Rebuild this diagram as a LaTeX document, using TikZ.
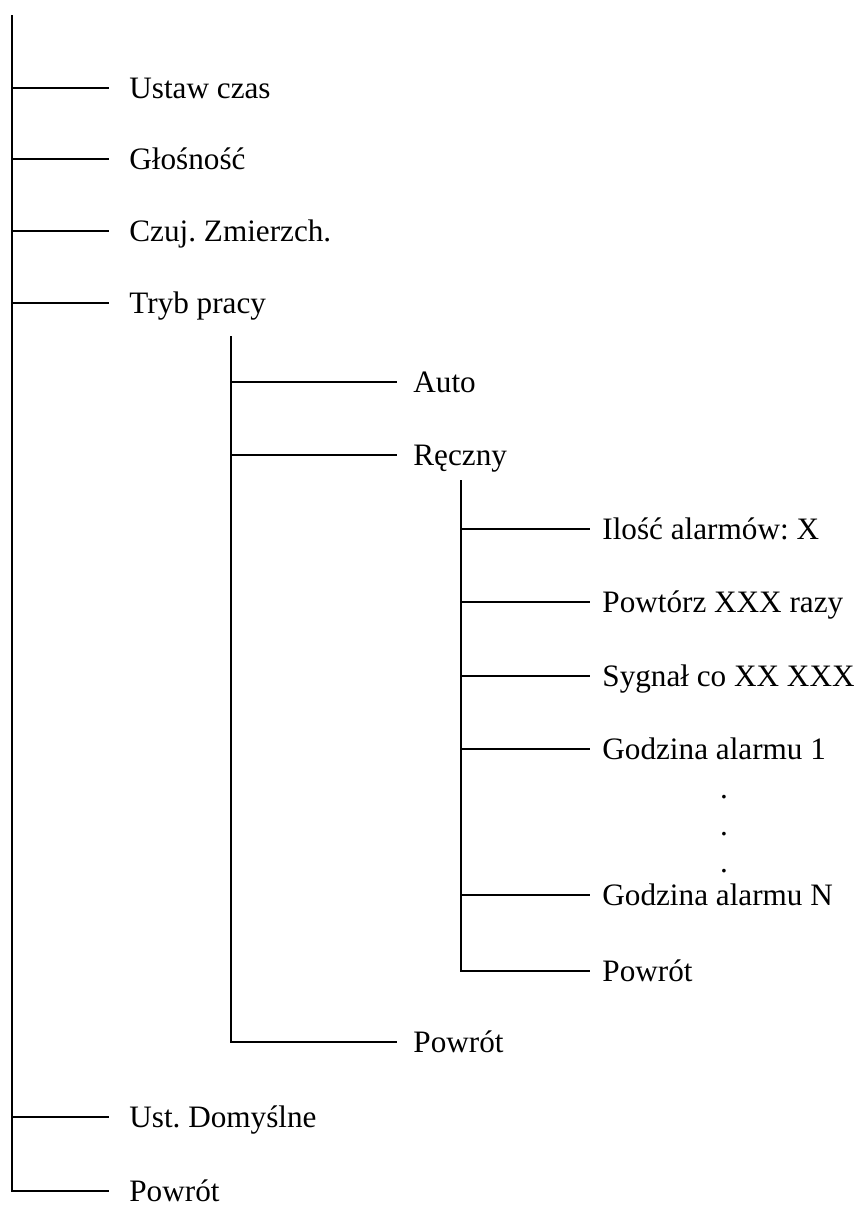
\documentclass[tikz,border=0pt]{standalone}
\usepackage{fontspec}
\setmainfont{Liberation Serif}
\usetikzlibrary{positioning}

\begin{document}
\frenchspacing
\begin{tikzpicture}[
    x=0.5pt, y=-0.5pt,
    item/.style={anchor=west, inner xsep=10pt, inner ysep=0pt,
        text height=10.3pt, text depth=0pt,
        font=\fontsize{15.6}{19}\selectfont},
    subitem/.style={item, inner xsep=8pt},
    subsubitem/.style={item, inner xsep=6pt},
    gap/.style={inner sep=0pt, font=\fontsize{15.6}{19}\selectfont},
    tree/.style={line width=1pt},
]
\useasboundingbox (0,0) rectangle (864,1205);

% main menu
\coordinate (root) at (12,15);
\node[item] (ustaw) at (109,88) {Ustaw czas};
\node[item] (glos) at (109,159) {Głośność};
\node[item] (czuj) at (109,231) {Czuj. Zmierzch.};
\node[item] (tryb) at (109,303) {Tryb pracy};
\node[item] (domysl) at (109,1117) {Ust. Domyślne};
\node[item] (powrotA) at (109,1191) {Powrót};

% tryb pracy
\coordinate (trybroot) at (231,336);
\node[subitem] (auto) at (397,382) {Auto};
\node[subitem] (reczny) at (397,455) {Ręczny};
\node[subitem] (powrotB) at (397,1042) {Powrót};

% reczny
\coordinate (recznyroot) at (461,480);
\node[subsubitem] (ilosc) at (590,529) {Ilość alarmów: X};
\node[subsubitem] (powtorz) at (590,602) {Powtórz XXX razy};
\node[subsubitem] (sygnal) at (590,676) {Sygnał co XX XXX};
\node[subsubitem] (godz1) at (590,749) {Godzina alarmu 1};
\node[subsubitem] (godzN) at (590,895) {Godzina alarmu N};
\node[subsubitem] (powrotC) at (590,971) {Powrót};
\foreach \i/\y in {1/797,2/834,3/871}
    \node[gap] (dot\i) at (724,\y) {.};

\foreach \n in {ustaw,glos,czuj,tryb,domysl}
    \draw[tree] (root |- \n.west) -- (\n.west);
\draw[tree] (root) |- (powrotA.west);

\foreach \n in {auto,reczny}
    \draw[tree] (trybroot |- \n.west) -- (\n.west);
\draw[tree] (trybroot) |- (powrotB.west);

\foreach \n in {ilosc,powtorz,sygnal,godz1,godzN}
    \draw[tree] (recznyroot |- \n.west) -- (\n.west);
\draw[tree] (recznyroot) |- (powrotC.west);
\end{tikzpicture}
\end{document}
